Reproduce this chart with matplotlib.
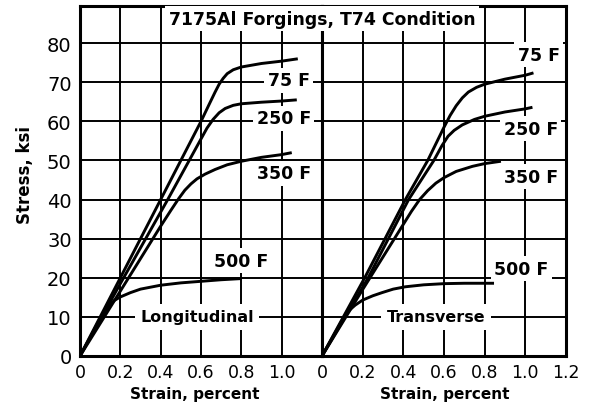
import matplotlib.pyplot as plt

# Longitudinal (left panel) - strain in percent, stress in ksi
long_75_strain = [0, 0.2, 0.4, 0.6, 0.64, 0.67, 0.69, 0.71, 0.73, 0.76, 0.8, 0.9, 1.0, 1.08]
long_75_stress = [0, 20, 40, 60, 64.3, 67.5, 69.5, 71, 72.2, 73.2, 73.9, 74.8, 75.4, 76.0]
long_250_strain = [0, 0.2, 0.435, 0.6, 0.63, 0.66, 0.69, 0.72, 0.76, 0.8, 0.9, 1.0, 1.075]
long_250_stress = [0, 18.5, 40, 55.5, 58.3, 60.5, 62.2, 63.3, 64.1, 64.5, 64.9, 65.2, 65.5]
long_350_strain = [0, 0.2, 0.4, 0.45, 0.49, 0.52, 0.55, 0.58, 0.62, 0.67, 0.73, 0.8, 0.9, 1.0, 1.05]
long_350_stress = [0, 16.6, 33.2, 37.2, 40.3, 42.4, 44, 45.3, 46.5, 47.7, 48.9, 49.8, 50.8, 51.5, 52.0]
long_500_strain = [0, 0.1, 0.14, 0.17, 0.2, 0.25, 0.3, 0.4, 0.5, 0.6, 0.7, 0.8]
long_500_stress = [0, 9.5, 12.6, 14.2, 15.1, 16.2, 17.1, 18.1, 18.7, 19.1, 19.5, 19.8]

# Transverse (right panel)
trans_75_strain = [0, 0.21, 0.41, 0.52, 0.6, 0.63, 0.66, 0.69, 0.72, 0.76, 0.8, 0.9, 1.0, 1.04]
trans_75_stress = [0, 20, 40, 50, 58.5, 61.5, 64, 66, 67.5, 68.7, 69.5, 70.8, 71.8, 72.4]
trans_250_strain = [0, 0.227, 0.426, 0.55, 0.59, 0.62, 0.65, 0.69, 0.75, 0.8, 0.9, 1.0, 1.035]
trans_250_stress = [0, 20, 40, 50, 53.8, 56.2, 57.7, 59.1, 60.5, 61.3, 62.4, 63.2, 63.6]
trans_350_strain = [0, 0.2, 0.35, 0.44, 0.48, 0.52, 0.56, 0.6, 0.66, 0.74, 0.8, 0.88]
trans_350_stress = [0, 17, 29.5, 37, 40, 42.3, 44.2, 45.6, 47.2, 48.5, 49.2, 49.8]
trans_500_strain = [0, 0.1, 0.13, 0.163, 0.2, 0.25, 0.295, 0.35, 0.41, 0.5, 0.6, 0.7, 0.8, 0.846]
trans_500_stress = [0, 9.2, 11.5, 13, 14.3, 15.4, 16.2, 17.1, 17.7, 18.2, 18.5, 18.6, 18.6, 18.6]

temps = ['75 F', '250 F', '350 F', '500 F']
long_curves = [(long_75_strain, long_75_stress), (long_250_strain, long_250_stress),
               (long_350_strain, long_350_stress), (long_500_strain, long_500_stress)]
trans_curves = [(trans_75_strain, trans_75_stress), (trans_250_strain, trans_250_stress),
                (trans_350_strain, trans_350_stress), (trans_500_strain, trans_500_stress)]

# label positions (strain, stress)
long_label_pos = [(1.035, 70.5), (1.01, 60.8), (1.01, 46.7), (0.80, 24.4)]
trans_label_pos = [(1.067, 77.0), (1.027, 58.1), (1.03, 45.9), (0.98, 22.3)]

stress_ticks = [0, 10, 20, 30, 40, 50, 60, 70, 80]
long_strain_ticks = [0, 0.2, 0.4, 0.6, 0.8, 1.0]
long_strain_labels = ['0', '0.2', '0.4', '0.6', '0.8', '1.0']
trans_strain_ticks = [0, 0.2, 0.4, 0.6, 0.8, 1.0, 1.2]
trans_strain_labels = ['0', '0.2', '0.4', '0.6', '0.8', '1.0', '1.2']

fig = plt.figure(figsize=(5.92, 4.10), dpi=100)
W, H = 592, 410
ax1 = fig.add_axes([80 / W, 1 - 357 / H, 242 / W, 350 / H])
ax2 = fig.add_axes([322 / W, 1 - 357 / H, 244 / W, 350 / H])

box = dict(facecolor='white', edgecolor='none', pad=2.5)

for ax, curves, pos, name, npos in [
        (ax1, long_curves, long_label_pos, 'Longitudinal', (0.58, 10)),
        (ax2, trans_curves, trans_label_pos, 'Transverse', (0.56, 10))]:
    ax.set_xlim(0, 1.2)
    ax.set_ylim(0, 89.5)
    for v in [0.2, 0.4, 0.6, 0.8, 1.0]:
        ax.axvline(v, color='black', lw=1.4, zorder=1)
    for h in stress_ticks[1:]:
        ax.axhline(h, color='black', lw=1.4, zorder=1)
    for (sx, sy) in curves:
        ax.plot(sx, sy, color='black', lw=2.1, zorder=2, solid_capstyle='butt',
                solid_joinstyle='round')
    for t, (px, py) in zip(temps, pos):
        ax.text(px, py, t, ha='center', va='center', fontsize=12.5,
                fontweight='bold', bbox=box, zorder=4)
    ax.text(npos[0], npos[1], name, ha='center', va='center', fontsize=11.5,
            fontweight='bold', bbox=dict(facecolor='white', edgecolor='none', pad=4), zorder=4)
    for s in ax.spines.values():
        s.set_linewidth(2.2)
        s.set_zorder(5)
    ax.tick_params(length=0, pad=5)
    ax.set_xlabel('Strain, percent', fontsize=11, fontweight='bold')

ax1.set_xticks(long_strain_ticks)
ax1.set_xticklabels(long_strain_labels, fontsize=12.5)
ax2.set_xticks(trans_strain_ticks)
ax2.set_xticklabels(trans_strain_labels, fontsize=12.5)
ax1.set_yticks(stress_ticks)
ax1.set_yticklabels([str(v) for v in stress_ticks], fontsize=14)
ax1.tick_params(axis='y', pad=6)
ax2.set_yticks(stress_ticks)
ax2.set_yticklabels([])

ax1.xaxis.set_label_coords(0.475, -0.085)
ax2.xaxis.set_label_coords(0.505, -0.085)

fig.text(25 / W, 1 - 175 / H, 'Stress, ksi', rotation=90, ha='center', va='center',
         fontsize=12, fontweight='bold')

fig.text(1.2, 86.3, '7175Al Forgings, T74 Condition', transform=ax1.transData,
         ha='center', va='center', fontsize=12.4, fontweight='bold',
         bbox=dict(facecolor='white', edgecolor='none', pad=2.5), zorder=6)

fig.savefig('out.png', dpi=100)
